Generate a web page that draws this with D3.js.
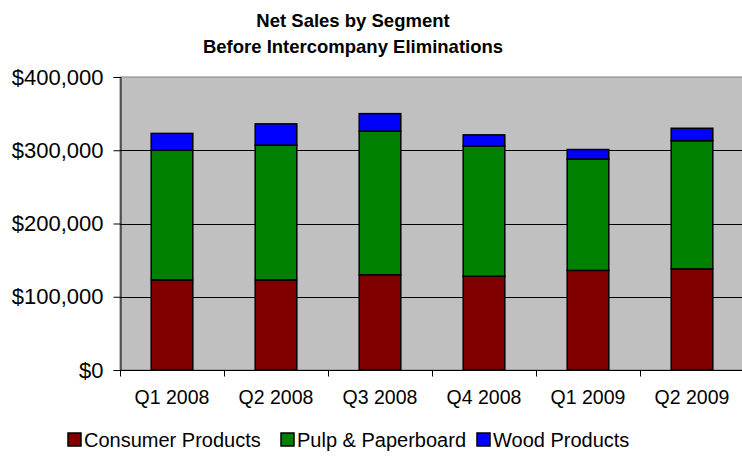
<!DOCTYPE html>
<html><head><meta charset="utf-8">
<script src="https://cdn.jsdelivr.net/npm/d3@7/dist/d3.min.js"></script>
<style>body{margin:0;background:#fff}svg{display:block}</style>
</head><body>
<svg id="c" width="742" height="466"></svg>
<script>
const categories = ["Q1 2008","Q2 2008","Q3 2008","Q4 2008","Q1 2009","Q2 2009"];
const consumerProducts = [123000,123000,130000,128000,136000,138000];
const pulpPaperboard = [177000,184000,196000,178000,152000,175000];
const woodProducts = [23000,29000,24000,15000,13000,17000];
const seriesNames = ["Consumer Products","Pulp & Paperboard","Wood Products"];
const seriesColors = ["#800000","#008000","#0000FF"];
const yTicks = [0,100000,200000,300000,400000];
const titleLines = ["Net Sales by Segment","Before Intercompany Eliminations"];

const svg = d3.select("#c");
const font = "Liberation Sans, Arial, sans-serif";
const m = {left:120, right:744, top:77, bottom:370};

const x = d3.scaleBand().domain(categories).range([m.left, m.right]).paddingInner(0.6).paddingOuter(0.3);
const xb = d3.scaleBand().domain(categories).range([m.left, m.right]);
const y = d3.scaleLinear().domain([0,400000]).range([m.bottom, m.top]);

// plot background
svg.append("rect").attr("x", m.left).attr("y", m.top).attr("width", m.right-m.left).attr("height", m.bottom-m.top)
  .attr("fill","#C0C0C0").attr("stroke","#808080").attr("stroke-width",1);

// gridlines
svg.append("g").selectAll("line").data(yTicks.filter(d=>d>0 && d<400000)).join("line")
  .attr("x1", m.left).attr("x2", m.right).attr("y1", d=>Math.round(y(d))+0.5).attr("y2", d=>Math.round(y(d))+0.5)
  .attr("stroke","#000").attr("stroke-width",1);

// stacked data
const table = categories.map((c,i)=>({cat:c, "Consumer Products":consumerProducts[i], "Pulp & Paperboard":pulpPaperboard[i], "Wood Products":woodProducts[i]}));
const stack = d3.stack().keys(seriesNames)(table);
svg.append("g").selectAll("g").data(stack).join("g")
  .attr("fill",(d,i)=>seriesColors[i])
  .selectAll("rect").data(d=>d).join("rect")
  .attr("x", d=>x(d.data.cat)).attr("width", x.bandwidth())
  .attr("y", d=>y(d[1])).attr("height", d=>y(d[0])-y(d[1]))
  .attr("stroke","#000").attr("stroke-width",1.5);

// y axis
const yAxis = d3.axisLeft(y).tickValues(yTicks).tickSize(7).tickPadding(10)
  .tickFormat(d=>"$"+d3.format(",")(d));
const gy = svg.append("g").attr("transform",`translate(${m.left+0.5},0)`).call(yAxis);
gy.select(".domain").attr("stroke","#000");
gy.selectAll("text").attr("font-family",font).attr("font-size",22).attr("fill","#000");

// x axis
const gx = svg.append("g").attr("transform",`translate(0,${m.bottom+0.5})`);
gx.append("line").attr("x1",m.left).attr("x2",m.right).attr("stroke","#000");
gx.selectAll(".tk").data(categories).join("line").attr("class","tk")
  .attr("x1",d=>Math.round(xb(d))+0.5).attr("x2",d=>Math.round(xb(d))+0.5).attr("y1",0).attr("y2",6).attr("stroke","#000");
gx.selectAll("text").data(categories).join("text")
  .attr("x",d=>xb(d)+xb.bandwidth()/2).attr("y",33).attr("text-anchor","middle")
  .attr("font-family",font).attr("font-size",19.5).text(d=>d);

// title
svg.append("g").selectAll("text").data(titleLines).join("text")
  .attr("x",353).attr("y",(d,i)=>27+i*26).attr("text-anchor","middle")
  .attr("font-family",font).attr("font-weight","bold").attr("font-size",18.5).text(d=>d);

// legend
const legX = [68, 281, 477];
const lg = svg.append("g").selectAll("g").data(seriesNames).join("g")
  .attr("transform",(d,i)=>`translate(${legX[i]},433)`);
lg.append("rect").attr("width",13).attr("height",13).attr("fill",(d,i)=>seriesColors[i]).attr("stroke","#000").attr("stroke-width",1.5);
lg.append("text").attr("x",16).attr("y",14).attr("font-family",font).attr("font-size",20).text(d=>d);
</script>
</body></html>
